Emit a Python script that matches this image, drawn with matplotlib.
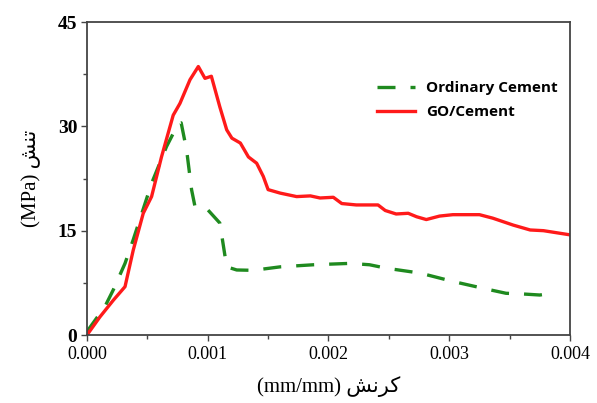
import matplotlib
matplotlib.use("Agg")
import matplotlib.pyplot as plt
from matplotlib.ticker import MultipleLocator, FormatStrFormatter

# GO/Cement (red solid)
go_x = [0.0, 0.000107, 0.000218, 0.000315, 0.000383, 0.000466, 0.000535, 0.000617,
        0.000714, 0.00077, 0.000853, 0.000922, 0.000977, 0.00103, 0.0011, 0.001157,
        0.0012, 0.00127, 0.001337, 0.001405, 0.00146, 0.0015, 0.0016, 0.001736,
        0.00185, 0.00193, 0.00204, 0.00211, 0.00223, 0.00241, 0.00247, 0.00256,
        0.00266, 0.00273, 0.00281, 0.00292, 0.00303, 0.00325, 0.00336, 0.00353,
        0.00367, 0.00378, 0.004]
go_y = [0.0, 2.6, 5.0, 6.95, 12.2, 17.5, 19.9, 25.6,
        31.6, 33.3, 36.7, 38.6, 36.9, 37.2, 32.8, 29.5,
        28.3, 27.6, 25.6, 24.7, 22.8, 20.9, 20.4, 19.9,
        20.0, 19.7, 19.8, 18.9, 18.7, 18.7, 17.9, 17.4,
        17.5, 17.0, 16.6, 17.1, 17.3, 17.3, 16.8, 15.8,
        15.1, 15.0, 14.4]

# Ordinary Cement (green dashed)
oc_x = [0.0, 0.000149, 0.000218, 0.000315, 0.000383, 0.000535, 0.000659, 0.000756,
        0.00078, 0.000825, 0.000866, 0.000894, 0.00099, 0.0011, 0.001157, 0.00124,
        0.001377, 0.0016, 0.001875, 0.00218, 0.00234, 0.00248, 0.00276, 0.00303,
        0.00331, 0.00347, 0.00361, 0.00375, 0.00388]
oc_y = [0.5, 4.1, 6.5, 10.3, 13.7, 21.8, 27.1, 30.4,
        30.5, 26.6, 20.9, 18.5, 18.2, 16.1, 9.8, 9.35,
        9.3, 9.8, 10.1, 10.3, 10.1, 9.6, 8.9, 7.7,
        6.6, 6.0, 5.9, 5.75, 6.1]

x_ticks = [0.000, 0.001, 0.002, 0.003, 0.004]
y_ticks = [0, 15, 30, 45]

fig = plt.figure(figsize=(5.97, 4.03), dpi=100)
ax = fig.add_axes([0.1457, 0.1687, 0.8091, 0.7767])

ax.plot(oc_x, oc_y, color="#1f8a1f", lw=2.4, dashes=(5.4, 4.5), label="Ordinary Cement")
ax.plot(go_x, go_y, color="#ff1a1a", lw=2.4, label="GO/Cement")

ax.set_xlim(0, 0.004)
ax.set_ylim(0, 45)
ax.set_xticks(x_ticks)
ax.set_yticks(y_ticks)
ax.xaxis.set_minor_locator(MultipleLocator(0.0005))
ax.yaxis.set_minor_locator(MultipleLocator(7.5))
ax.xaxis.set_major_formatter(FormatStrFormatter("%.3f"))

for s in ax.spines.values():
    s.set_color("#444444")
    s.set_linewidth(1.3)
ax.tick_params(which="both", direction="out", color="#444444", width=1.0)
ax.tick_params(which="major", length=4)
ax.tick_params(which="minor", length=3)
ax.tick_params(axis="x", labelsize=13, pad=4)
ax.tick_params(axis="y", labelsize=14, pad=3)
for t in ax.get_xticklabels():
    t.set_family("Liberation Serif")
for t in ax.get_yticklabels():
    t.set_family("Liberation Serif")
    t.set_fontweight("bold")

fam = ["Liberation Serif", "DejaVu Sans"]
ax.set_xlabel("(mm/mm) \uFEB6\uFEE7\uFEAE\uFB90", fontsize=15, family=fam, labelpad=9)
ax.set_ylabel("(MPa) \uFEB6\uFEE8\uFE97", fontsize=15, family=fam, labelpad=12)

leg = ax.legend(loc="upper left", bbox_to_anchor=(0.60, 0.81), frameon=False,
                prop={"family": "Open Sans", "weight": "bold", "size": 11},
                handlelength=2.5, handletextpad=0.7, labelspacing=0.65,
                borderpad=0, borderaxespad=0)

fig.savefig("out.png", dpi=100, facecolor="white")
